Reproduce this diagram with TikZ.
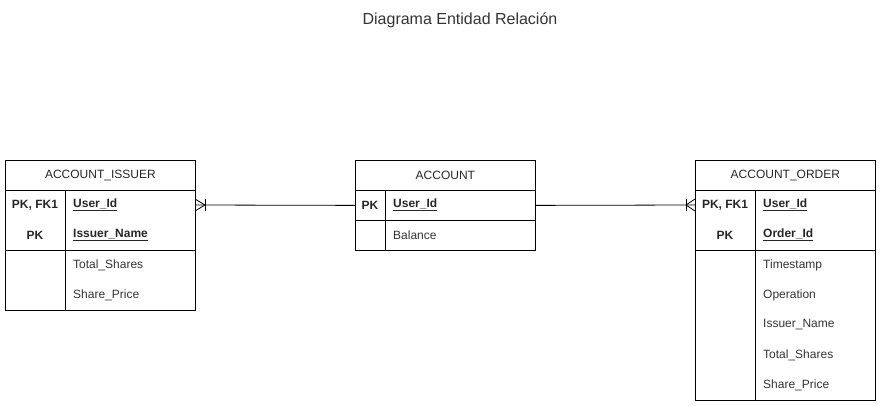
\documentclass[tikz,border=0pt]{standalone}
\usepackage{fontspec}
\setmainfont{Liberation Sans}
\begin{document}
\begin{tikzpicture}[x=1pt,y=-1pt,
  box/.style={draw=black,line width=0.8pt,inner sep=0pt,anchor=north west},
  ttl/.style={font=\fontsize{12}{14}\selectfont,text=black!85},
  key/.style={font=\fontsize{12}{14}\selectfont\bfseries,text=black!85},
  fld/.style={font=\fontsize{12}{14}\selectfont,text=black!80,anchor=west,inner sep=0pt},
  kfld/.style={font=\fontsize{12}{14}\selectfont\bfseries,text=black!85,anchor=west,inner sep=0pt},
  rel/.style={draw=black,line width=0.8pt}]
\useasboundingbox (0,0) rectangle (881,406);
\node[font=\fontsize{16}{18}\selectfont,text=black!80] (title) at (460,20) {Diagrama Entidad Relación};
% ACCOUNT_ISSUER
\node[box,minimum width=190pt,minimum height=30pt] (isT) at (5,160) {};
\node[ttl] at (isT.center) {ACCOUNT\_ISSUER};
\node[box,minimum width=190pt,minimum height=60pt] (isK) at (5,190) {};
\node[box,minimum width=190pt,minimum height=60pt] (isA) at (5,250) {};
\draw[rel] (65,190) -- (65,310);
\node[key] at (35,205) {PK, FK1};
\node[key] at (35,235) {PK};
\node[kfld] at (73,205) {\underline{User\_Id}};
\node[kfld] at (73,235) {\underline{Issuer\_Name}};
\node[fld] at (73,265) {Total\_Shares};
\node[fld] at (73,295) {Share\_Price};
% ACCOUNT
\node[box,minimum width=180pt,minimum height=30pt] (acT) at (355,160) {};
\node[ttl] at (acT.center) {ACCOUNT};
\node[box,minimum width=180pt,minimum height=30pt] (acK) at (355,190) {};
\node[box,minimum width=180pt,minimum height=30pt] (acA) at (355,220) {};
\draw[rel] (385,190) -- (385,250);
\node[key] at (370,205) {PK};
\node[kfld] at (393,205) {\underline{User\_Id}};
\node[fld] at (393,235) {Balance};
% ACCOUNT_ORDER
\node[box,minimum width=180pt,minimum height=30pt] (orT) at (695,160) {};
\node[ttl] at (orT.center) {ACCOUNT\_ORDER};
\node[box,minimum width=180pt,minimum height=60pt] (orK) at (695,190) {};
\node[box,minimum width=180pt,minimum height=150pt] (orA) at (695,250) {};
\draw[rel] (755,190) -- (755,400);
\node[key] at (725,205) {PK, FK1};
\node[key] at (725,235) {PK};
\node[kfld] at (763,205) {\underline{User\_Id}};
\node[kfld] at (763,235) {\underline{Order\_Id}};
\node[fld] at (763,265) {Timestamp};
\node[fld] at (763,295) {Operation};
\node[fld] at (763,325) {Issuer\_Name};
\node[fld] at (763,355) {Total\_Shares};
\node[fld] at (763,385) {Share\_Price};
% relations
\coordinate (isE) at (195,205);
\coordinate (orW) at (695,205);
\draw[rel] (acK.west) -- (isE);
\draw[rel] (195,199) -- (205,205) -- (195,211);
\draw[rel] (205,199) -- (205,211);
\draw[rel] (acK.east) -- (orW);
\draw[rel] (695,199) -- (686,205) -- (695,211);
\draw[rel] (686,199) -- (686,211);
\end{tikzpicture}
\end{document}
